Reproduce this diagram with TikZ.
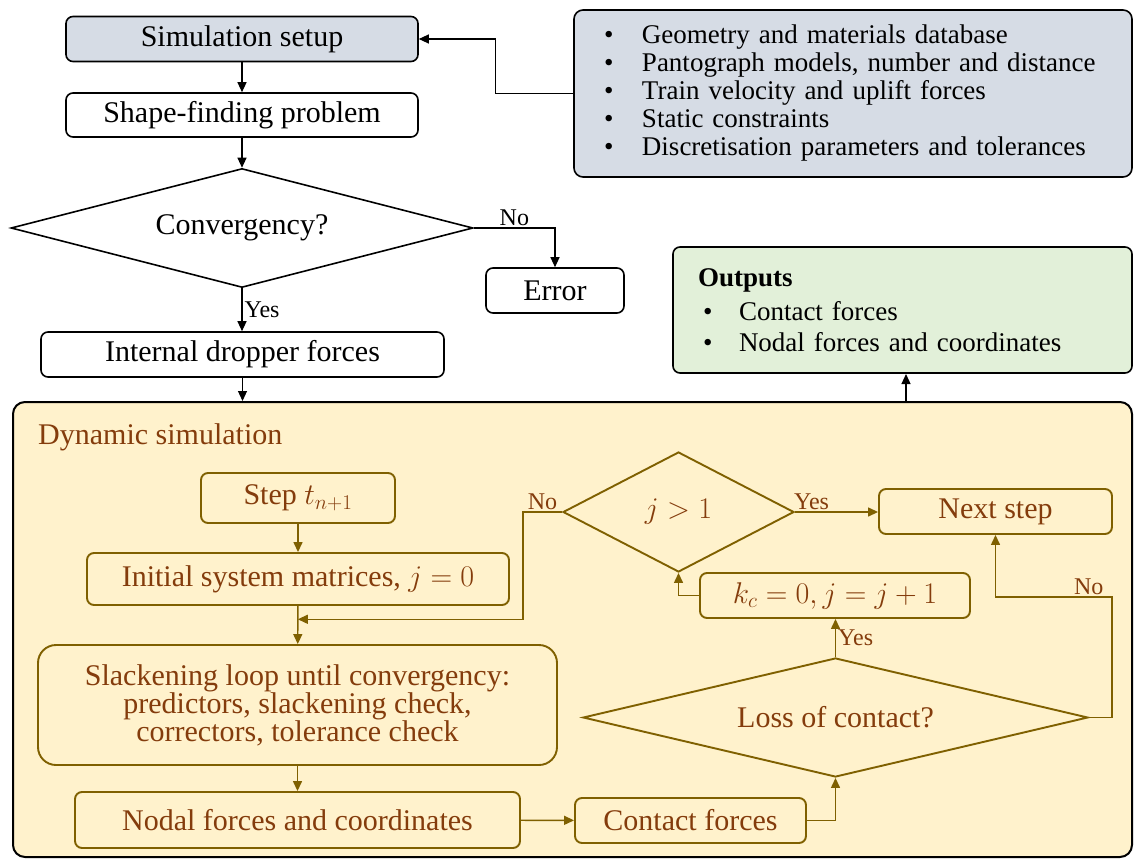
\RequirePackage{fix-cm}
\documentclass[tikz,border=0pt]{standalone}
\usepackage{amsmath}
\usepackage{fontspec}
\setmainfont{Liberation Serif}
\usetikzlibrary{arrows.meta, shapes.geometric, calc}

\definecolor{setupblue}{HTML}{D6DCE5}
\definecolor{outgreen}{HTML}{E2F0D9}
\definecolor{dynyellow}{HTML}{FFF2CC}
\definecolor{dynline}{HTML}{7F6000}
\definecolor{dyntext}{HTML}{843C0C}

\newcommand{\flowfont}{\fontsize{30}{28}\selectfont}
\newcommand{\listfont}{\fontsize{27}{28}\selectfont}
\newcommand{\tagfont}{\fontsize{24}{26}\selectfont}

\begin{document}
\begin{tikzpicture}[
    x=1pt, y=-1pt,
    >={Triangle[length=10pt,width=9pt]},
    box style/.style={rectangle, rounded corners=7pt, draw=black, line width=1.6pt, font=\flowfont, inner sep=0pt},
    decision style/.style={diamond, draw=black, line width=1.6pt, font=\flowfont, inner sep=0pt},
    dyn box style/.style={box style, draw=dynline, line width=1.9pt, text=dyntext},
    dyn decision style/.style={decision style, draw=dynline, line width=1.9pt, text=dyntext},
    arrow style/.style={line width=1.2pt, ->},
    dyn arrow style/.style={arrow style, line width=1.4pt, dynline},
    tag style/.style={font=\tagfont, inner sep=2pt},
    dyn tag style/.style={tag style, text=dyntext}
]
\useasboundingbox (0,0) rectangle (1134,859);

% Setup and static part
\node[box style, fill=setupblue, minimum width=352pt, minimum height=45pt] (setup) at (242,39) {Simulation setup};
\node[box style, minimum width=352pt, minimum height=44pt] (shape) at (242,115) {Shape-finding problem};
\node[decision style, minimum width=462pt, minimum height=119pt, shape aspect=3.9] (conv) at (242,228) {Convergency?};
\node[box style, minimum width=138pt, minimum height=45pt] (error) at (555,290.5) {Error};
\node[box style, minimum width=403pt, minimum height=45pt] (internal) at (242.5,354.5) {Internal dropper forces};

% Input data
\node[box style, rounded corners=9pt, fill=setupblue, minimum width=558pt, minimum height=167pt,
      text width=498pt, align=left, font=\listfont] (inputs) at (853,93.5) {%
    \makebox[38pt][l]{\textbullet}Geometry and materials database\\
    \makebox[38pt][l]{\textbullet}Pantograph models, number and distance\\
    \makebox[38pt][l]{\textbullet}Train velocity and uplift forces\\
    \makebox[38pt][l]{\textbullet}Static constraints\\
    \makebox[38pt][l]{\textbullet}Discretisation parameters and tolerances};

% Outputs
\node[box style, fill=outgreen, minimum width=459pt, minimum height=126pt,
      text width=409pt, align=left, font=\listfont] (outputs) at (902.5,310) {%
    \textbf{Outputs}\\[6pt]
    \hspace*{5pt}\makebox[36pt][l]{\textbullet}Contact forces\\[3pt]
    \hspace*{5pt}\makebox[36pt][l]{\textbullet}Nodal forces and coordinates};

% Dynamic simulation frame
\node[rectangle, rounded corners=12pt, draw=black, line width=2pt, fill=dynyellow,
      minimum width=1119pt, minimum height=455pt] (dyn) at (572.5,629.5) {};
\node[anchor=west, font=\flowfont, text=dyntext, inner sep=0pt] (dyntitle) at (38,437) {Dynamic simulation};

% Dynamic simulation steps
\node[dyn box style, minimum width=194pt, minimum height=50pt] (step) at (298,498) {Step $t_{n+1}$};
\node[dyn box style, minimum width=422pt, minimum height=52pt] (init) at (298,579) {Initial system matrices, $j=0$};
\node[dyn box style, rounded corners=18pt, minimum width=519pt, minimum height=120pt, align=center] (slack) at (297.5,705)
    {Slackening loop until convergency:\\predictors, slackening check,\\correctors, tolerance check};
\node[dyn box style, minimum width=445pt, minimum height=56pt] (nodal) at (297.5,820) {Nodal forces and coordinates};
\node[dyn box style, minimum width=231pt, minimum height=45pt] (contact) at (690.5,820.5) {Contact forces};
\node[dyn decision style, minimum width=505pt, minimum height=119pt, shape aspect=4.2] (loss) at (835.5,717.5) {Loss of contact?};
\node[dyn box style, minimum width=270pt, minimum height=45pt] (kc) at (835,595.5) {$k_c=0, j=j+1$};
\node[dyn decision style, minimum width=231pt, minimum height=120pt, shape aspect=1.9] (jdec) at (678.5,512) {$j>1$};
\node[dyn box style, minimum width=233pt, minimum height=45pt] (next) at (995.5,511.5) {Next step};

% Static connectors
\draw[arrow style] (setup) -- (shape);
\draw[arrow style] (shape) -- (conv);
\draw[arrow style] (conv.east) -| node[tag style, above, pos=0.25] {No} (error.north);
\draw[arrow style] (conv.south) -- node[tag style, right] {Yes} (conv.south |- internal.north);
\draw[arrow style] (internal.south) -- (internal.south |- dyn.north);
\draw[arrow style] (inputs.west) -- ++(-78,0) |- (setup.east);
\draw[arrow style] (dyn.north -| outputs.south) ++(3.5,0) -- ++(0,-27);

% Dynamic connectors
\draw[dyn arrow style] (step) -- (init);
\draw[dyn arrow style] (init) -- (slack);
\draw[dyn arrow style] (slack) -- (nodal);
\draw[dyn arrow style] (nodal) -- (contact);
\draw[dyn arrow style] (contact.east) -| (loss.south);
\draw[dyn arrow style] (loss.north) -- node[dyn tag style, right] {Yes} (loss.north |- kc.south);
\draw[dyn arrow style] (kc.west) -| (jdec.south);
\draw[dyn arrow style] (jdec.east) -- node[dyn tag style, above, pos=0.2] {Yes} (jdec.east -| next.west);
\draw[dyn arrow style] (jdec.west) -- node[dyn tag style, above] {No} ++(-39,0) |- ($(init.south)!0.35!(slack.north)$);
\draw[dyn arrow style] (loss.east) -- ++(23,0) |- node[dyn tag style, above, pos=0.6] {No} ($(next.south)+(0,62)$) -- (next.south);
\end{tikzpicture}
\end{document}
